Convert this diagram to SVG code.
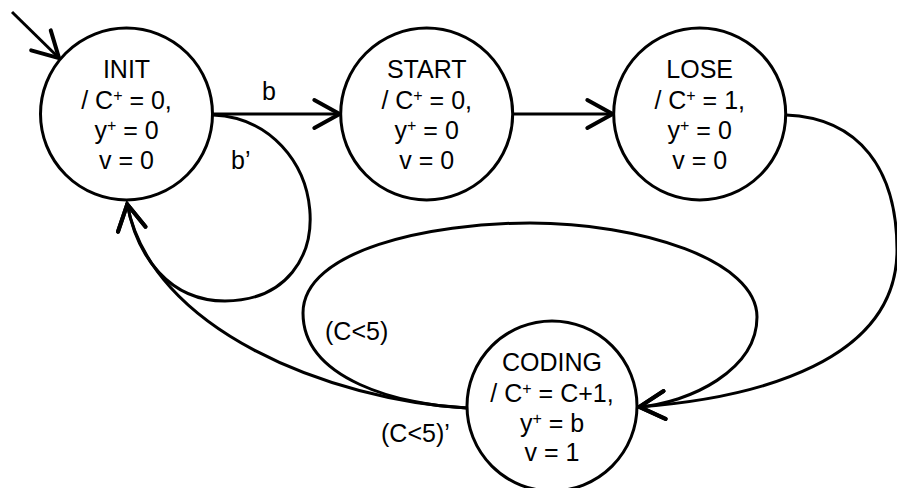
<svg xmlns="http://www.w3.org/2000/svg" width="897" height="488" viewBox="0 0 897 488">
<defs>
<style>
.node{fill:#fff;stroke:#000;stroke-width:3}
.edge{fill:none;stroke:#000;stroke-width:3;marker-end:url(#arr)}
text{font-family:"Liberation Sans",Arial,sans-serif;font-size:25px;fill:#000}
.c{text-anchor:middle}
.sup{font-size:16px}
</style>
<marker id="arr" markerUnits="userSpaceOnUse" markerWidth="40" markerHeight="40" viewBox="-25 -15 30 30" refX="0" refY="0" orient="auto">
<path d="M -20,-10.5 L -1,0 L -20,10.5" fill="none" stroke="#000" stroke-width="3" stroke-linecap="round" stroke-linejoin="miter"/>
</marker>
</defs>
<rect width="897" height="488" fill="#fff"/>
<g id="connectors">
<path class="edge" d="M 12,12 L 60,59"/>
<path class="edge" d="M 213,114 L 341,114"/>
<path class="edge" d="M 513,114 L 614,114"/>
<path class="edge" d="M 213,115 C 330,120 350,300 225,301 C 170,301 137,258 127,203"/>
<path class="edge" d="M 467,408 C 330,400 150,330 127,203"/>
<path class="edge" d="M 786,115 C 860,118 897,170 897,250 C 897,360 760,398 638,407"/>
<path class="edge" d="M 467,408 C 400,405 303,380 303,313 C 303,250 430,223 530,223 C 640,223 757,260 757,317 C 757,370 690,403 638,407"/>
<text x="269" y="100" class="c">b</text>
<text x="231" y="169">b’</text>
<text x="325" y="340">(C&lt;5)</text>
<text x="381" y="442">(C&lt;5)’</text>
</g>
<g id="INIT">
<circle class="node" cx="126.5" cy="114" r="86"/>
<text class="c"><tspan x="126.5" y="78">INIT</tspan><tspan x="126.5" y="109">/ C<tspan class="sup" dy="-8">+</tspan><tspan dy="8"> = 0,</tspan></tspan><tspan x="126.5" y="139">y<tspan class="sup" dy="-8">+</tspan><tspan dy="8"> = 0</tspan></tspan><tspan x="126.5" y="169">v = 0</tspan></text>
</g>
<g id="START">
<circle class="node" cx="426.7" cy="114" r="86"/>
<text class="c"><tspan x="426.7" y="78">START</tspan><tspan x="426.7" y="109">/ C<tspan class="sup" dy="-8">+</tspan><tspan dy="8"> = 0,</tspan></tspan><tspan x="426.7" y="139">y<tspan class="sup" dy="-8">+</tspan><tspan dy="8"> = 0</tspan></tspan><tspan x="426.7" y="169">v = 0</tspan></text>
</g>
<g id="LOSE">
<circle class="node" cx="699.7" cy="114" r="86"/>
<text class="c"><tspan x="699.7" y="78">LOSE</tspan><tspan x="699.7" y="109">/ C<tspan class="sup" dy="-8">+</tspan><tspan dy="8"> = 1,</tspan></tspan><tspan x="699.7" y="139">y<tspan class="sup" dy="-8">+</tspan><tspan dy="8"> = 0</tspan></tspan><tspan x="699.7" y="169">v = 0</tspan></text>
</g>
<g id="CODING">
<circle class="node" cx="552" cy="406" r="85"/>
<text class="c"><tspan x="552" y="370.5">CODING</tspan><tspan x="552" y="401.5">/ C<tspan class="sup" dy="-8">+</tspan><tspan dy="8"> = C+1,</tspan></tspan><tspan x="552" y="431.5">y<tspan class="sup" dy="-8">+</tspan><tspan dy="8"> = b</tspan></tspan><tspan x="552" y="461">v = 1</tspan></text>
</g>
</svg>
